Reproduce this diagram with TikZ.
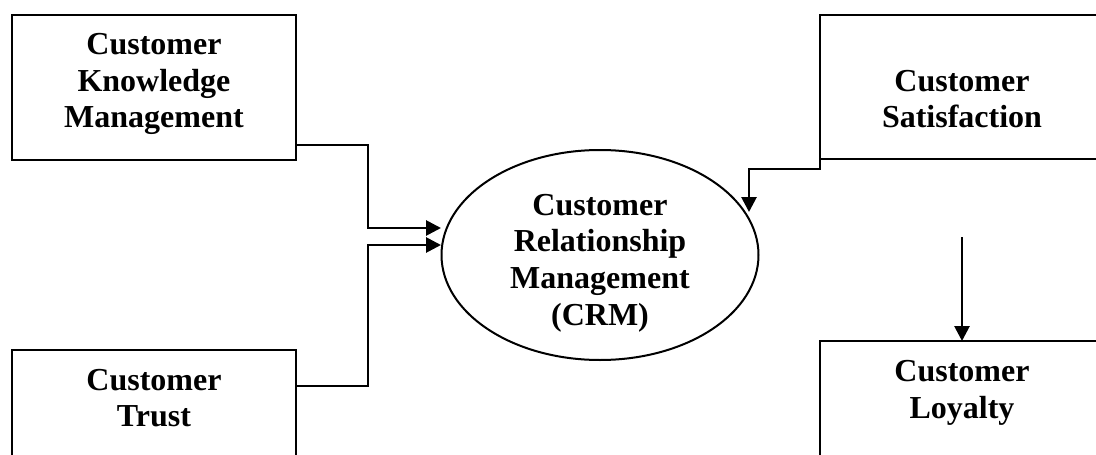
\documentclass[tikz,border=0pt]{standalone}
\usepackage{fontspec}
\setmainfont{Liberation Serif}
\usetikzlibrary{shapes.geometric,arrows.meta,calc}
\begin{document}
\begin{tikzpicture}[x=1pt,y=-1pt,
  boxnode/.style={draw=black,line width=2.4pt,rectangle,inner sep=0pt,outer sep=0pt,anchor=north west},
  lbl/.style={align=center,inner sep=0pt,font=\fontsize{32}{36.7}\selectfont\bfseries},
  conn/.style={draw=black,line width=2.8pt,-{Triangle[length=15pt,width=15pt]}}]
\useasboundingbox[fill=white] (0,0) rectangle (1096,455);
% boxes
\node[boxnode,minimum width=284pt,minimum height=145pt] (ckm) at (12,15) {};
\node[boxnode,minimum width=284pt,minimum height=200pt] (ct) at (12,350) {};
\node[boxnode,minimum width=284pt,minimum height=144pt] (cs) at (820,15) {};
\node[boxnode,minimum width=284pt,minimum height=200pt] (cl) at (820,341) {};
\node[draw=black,line width=2pt,ellipse,minimum width=317pt,minimum height=210pt,inner sep=0pt,outer sep=0pt] (crm) at (600,255) {};
% labels
\node[lbl] (ckmt) at (154,84) {Customer\\Knowledge\\Management};
\node[lbl] (ctt) at (154,398) {Customer\\Trust};
\node[lbl] (cst) at (962,99) {Customer\\Satisfaction};
\node[lbl] (clt) at (962,393) {Customer\\Loyalty};
\node[lbl] (crmt) at (600,263) {Customer\\Relationship\\Management\\(CRM)};
% connector points
\coordinate (j1) at (368,0);
\coordinate (ckmout) at (296,145);
\coordinate (ctout) at (296,386);
\coordinate (tip1) at (441,228);
\coordinate (tip2) at (441,245);
\coordinate (csout) at (820,126);
\coordinate (csbend) at (820,169);
\coordinate (tip3) at (749,212);
\coordinate (loystart) at (962,237);
% connectors
\draw[conn] (ckmout) -| (j1 |- tip1) -- (tip1);
\draw[conn] (ctout) -| (j1 |- tip2) -- (tip2);
\draw[conn] (csout) -- (csbend) -| (tip3);
\draw[conn] (loystart) -- (cl.north -| loystart);
\end{tikzpicture}
\end{document}
